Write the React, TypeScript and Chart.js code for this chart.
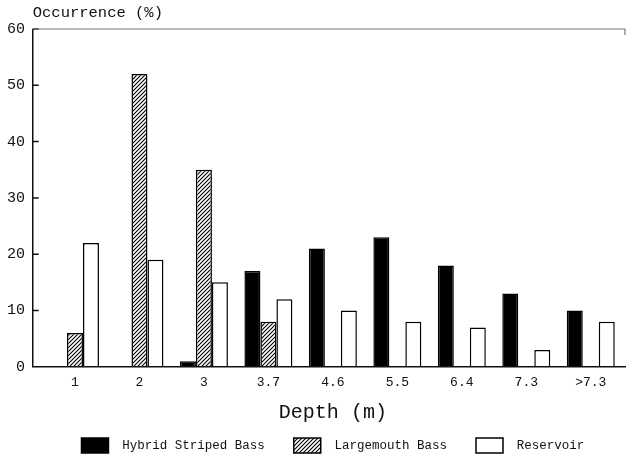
import React, { useEffect, useRef } from 'react';
import { Chart, registerables } from 'chart.js';

Chart.register(...registerables);

const depthLabels = ['1', '2', '3', '3.7', '4.6', '5.5', '6.4', '7.3', '>7.3'];
const hybridStripedBass = [0, 0, 1, 17, 21, 23, 18, 13, 10];
const largemouthBass = [6, 52, 35, 8, 0, 0, 0, 0, 0];
const reservoir = [22, 19, 15, 12, 10, 8, 7, 3, 8];
const yTicks = [0, 10, 20, 30, 40, 50, 60];

const FONT = '"Liberation Mono", "DejaVu Sans Mono", monospace';

function makeHatch(): CanvasPattern | string {
  const c = document.createElement('canvas');
  c.width = 4;
  c.height = 4;
  const g = c.getContext('2d');
  if (!g) return '#888';
  g.fillStyle = '#fff';
  g.fillRect(0, 0, 4, 4);
  g.strokeStyle = '#000';
  g.lineWidth = 1.1;
  g.beginPath();
  g.moveTo(-1, 5);
  g.lineTo(5, -1);
  g.moveTo(-1, 1);
  g.lineTo(1, -1);
  g.moveTo(3, 5);
  g.lineTo(5, 3);
  g.stroke();
  const p = g.createPattern(c, 'repeat');
  return p || '#888';
}

const framePlugin = {
  id: 'frame',
  afterDraw(chart: any) {
    const { ctx, chartArea: a, scales } = chart;
    const y = scales.y;
    const axisX = a.left - 10;
    ctx.save();
    ctx.lineWidth = 1.5;
    ctx.strokeStyle = '#111';
    ctx.beginPath();
    ctx.moveTo(axisX, a.top);
    ctx.lineTo(axisX, a.bottom);
    ctx.lineTo(chart.width, a.bottom);
    y.ticks.forEach((t: any) => {
      const py = y.getPixelForValue(t.value);
      ctx.moveTo(axisX, py);
      ctx.lineTo(axisX + 6, py);
    });
    ctx.stroke();
    ctx.strokeStyle = '#777';
    ctx.lineWidth = 1.2;
    ctx.beginPath();
    ctx.moveTo(axisX, a.top);
    ctx.lineTo(chart.width - 1, a.top);
    ctx.lineTo(chart.width - 1, a.top + 6);
    ctx.stroke();
    ctx.fillStyle = '#111';
    ctx.font = '15.5px ' + FONT;
    ctx.textAlign = 'left';
    ctx.textBaseline = 'middle';
    ctx.fillText('Occurrence (%)', axisX, a.top - 16);
    ctx.restore();
  },
};

export default function App() {
  const ref = useRef<HTMLCanvasElement | null>(null);
  useEffect(() => {
    document.body.style.margin = '0';
    const canvas = ref.current;
    if (!canvas) return;
    const hatch = makeHatch();
    const chart = new Chart(canvas, {
      type: 'bar',
      data: {
        labels: depthLabels,
        datasets: [
          {
            label: 'Hybrid Striped Bass',
            data: hybridStripedBass,
            backgroundColor: '#000',
            borderColor: '#000',
            borderWidth: 1.5,
          },
          {
            label: 'Largemouth Bass',
            data: largemouthBass,
            backgroundColor: hatch as any,
            borderColor: '#000',
            borderWidth: 1.5,
          },
          {
            label: 'Reservoir',
            data: reservoir,
            backgroundColor: '#fff',
            borderColor: '#000',
            borderWidth: 1.5,
          },
        ],
      },
      options: {
        responsive: false,
        animation: false,
        layout: { padding: { left: 0, right: 3, top: 29, bottom: -5 } },
        datasets: { bar: { categoryPercentage: 0.744, barPercentage: 1 } },
        scales: {
          x: {
            grid: { display: false, drawTicks: false },
            border: { display: false },
            ticks: { font: { family: FONT, size: 13 }, color: '#111', padding: 8.2 },
            title: {
              display: true,
              text: 'Depth (m)',
              font: { family: FONT, size: 20 },
              color: '#111',
              padding: { top: 2.2, bottom: -16 },
            },
          },
          y: {
            min: 0,
            max: 60,
            afterBuildTicks: (s: any) => {
              s.ticks = yTicks.map((v) => ({ value: v }));
            },
            afterFit: (s: any) => {
              s.width = 42.75;
            },
            grid: { display: false, drawTicks: false },
            border: { display: false },
            ticks: { font: { family: FONT, size: 15 }, color: '#111', padding: 17.75 },
          },
        },
        plugins: {
          tooltip: { enabled: false },
          legend: {
            position: 'bottom',
            fullSize: false,
            labels: {
              boxWidth: 27,
              boxHeight: 15,
              padding: 29,
              color: '#111',
              font: { family: FONT, size: 12.5 },
              generateLabels: (c: any) =>
                Chart.defaults.plugins.legend.labels
                  .generateLabels(c)
                  .map((l: any) => ({ ...l, text: ' ' + l.text })),
            },
          },
        },
      },
      plugins: [framePlugin],
    });
    return () => chart.destroy();
  }, []);
  return (
    <div style={{ width: 626, height: 458 }}>
      <canvas ref={ref} width={626} height={458} style={{ display: 'block' }} />
    </div>
  );
}
